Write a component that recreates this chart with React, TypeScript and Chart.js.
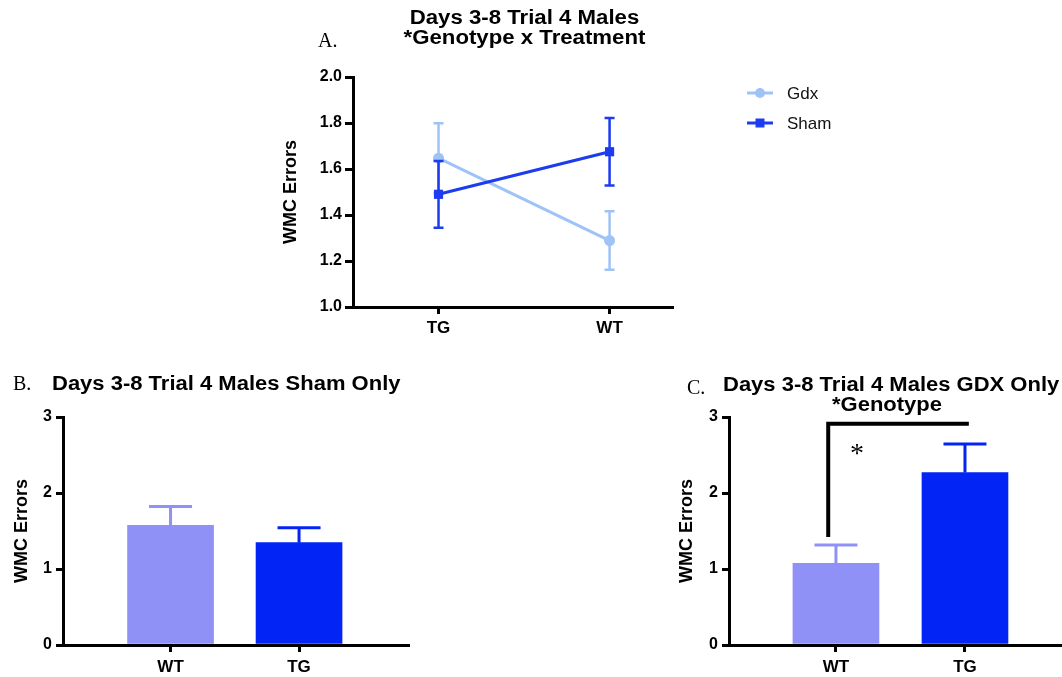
import React, { useEffect, useRef } from 'react';
import { Chart, registerables } from 'chart.js';

Chart.register(...registerables);

// ---------- Data ----------
const lineCategories = ['TG', 'WT'];
const gdxMeans = [1.647, 1.289];
const gdxSem = [0.152, 0.127];
const shamMeans = [1.49, 1.675];
const shamSem = [0.145, 0.147];
const lineYTicks = [1.0, 1.2, 1.4, 1.6, 1.8, 2.0];

const barCategories = ['WT', 'TG'];
const shamOnlyMeans = [1.574, 1.346];
const shamOnlySem = [0.25, 0.197];
const gdxOnlyMeans = [1.075, 2.27];
const gdxOnlySem = [0.241, 0.375];
const barYTicks = [0, 1, 2, 3];

const legendLabels = ['Gdx', 'Sham'];

// ---------- Styles ----------
const GDX_LINE = '#9fc3f6';
const SHAM_LINE = '#1d3bef';
const BAR_LIGHT = '#8f91f7';
const BAR_DARK = '#0224f4';
const SANS = '"Liberation Sans", Arial, Helvetica, sans-serif';
const SERIF = '"Liberation Serif", "Times New Roman", serif';

Chart.defaults.font.family = SANS;
Chart.defaults.color = '#000';

type Txt = { text: string; x: number; y: number; font: string; align?: CanvasTextAlign; sx?: number };

const textPlugin = (items: Txt[]) => ({
  id: 'texts',
  afterDraw(chart: any) {
    const ctx = chart.ctx;
    items.forEach((t) => {
      ctx.save();
      ctx.font = t.font;
      ctx.fillStyle = '#000';
      ctx.textAlign = t.align || 'left';
      ctx.textBaseline = 'alphabetic';
      ctx.translate(t.x, t.y);
      ctx.scale(t.sx || 1, 1);
      ctx.fillText(t.text, 0, 0);
      ctx.restore();
    });
  },
});

const lineErrorPlugin = {
  id: 'lineErr',
  beforeDatasetDraw(chart: any, args: any) {
    const ds = chart.data.datasets[args.index];
    const sem: number[] = ds.sem;
    if (!sem) return;
    const ctx = chart.ctx;
    const ys = chart.scales.y;
    ctx.save();
    ctx.strokeStyle = ds.borderColor;
    ctx.lineWidth = 2.5;
    args.meta.data.forEach((pt: any, i: number) => {
      const v = ds.data[i].y;
      const yt = ys.getPixelForValue(v + sem[i]);
      const yb = ys.getPixelForValue(v - sem[i]);
      ctx.beginPath();
      ctx.moveTo(pt.x, yt);
      ctx.lineTo(pt.x, yb);
      ctx.moveTo(pt.x - 5, yt);
      ctx.lineTo(pt.x + 5, yt);
      ctx.moveTo(pt.x - 5, yb);
      ctx.lineTo(pt.x + 5, yb);
      ctx.stroke();
    });
    ctx.restore();
  },
};

const barErrorPlugin = {
  id: 'barErr',
  afterDatasetDraw(chart: any, args: any) {
    const ds = chart.data.datasets[args.index];
    const sem: number[] = ds.sem;
    if (!sem) return;
    const ctx = chart.ctx;
    const ys = chart.scales.y;
    ctx.save();
    ctx.lineWidth = 3;
    args.meta.data.forEach((bar: any, i: number) => {
      const v = ds.data[i].y;
      const yt = ys.getPixelForValue(v + sem[i]);
      ctx.strokeStyle = ds.backgroundColor[i];
      ctx.beginPath();
      ctx.moveTo(bar.x, bar.y);
      ctx.lineTo(bar.x, yt);
      ctx.moveTo(bar.x - 21.5, yt);
      ctx.lineTo(bar.x + 21.5, yt);
      ctx.stroke();
    });
    ctx.restore();
  },
};

const legendPlugin = {
  id: 'customLegend',
  afterDraw(chart: any) {
    const ctx = chart.ctx;
    const rows = [
      { label: legendLabels[0], color: GDX_LINE, shape: 'circle', y: 93 },
      { label: legendLabels[1], color: SHAM_LINE, shape: 'rect', y: 123 },
    ];
    rows.forEach((r) => {
      ctx.save();
      ctx.strokeStyle = r.color;
      ctx.fillStyle = r.color;
      ctx.lineWidth = 3;
      ctx.beginPath();
      ctx.moveTo(487, r.y);
      ctx.lineTo(513, r.y);
      ctx.stroke();
      ctx.beginPath();
      if (r.shape === 'circle') ctx.arc(500, r.y, 5, 0, Math.PI * 2);
      else ctx.rect(495.5, r.y - 4.5, 9, 9);
      ctx.fill();
      ctx.fillStyle = '#111';
      ctx.font = `17px ${SANS}`;
      ctx.textBaseline = 'middle';
      ctx.textAlign = 'left';
      ctx.fillText(r.label, 527, r.y + 1);
      ctx.restore();
    });
  },
};

const bracketPlugin = {
  id: 'bracket',
  afterDraw(chart: any) {
    const { ctx, scales } = chart;
    const xs = scales.x;
    const ys = scales.y;
    ctx.save();
    ctx.strokeStyle = '#000';
    ctx.lineWidth = 4;
    ctx.lineJoin = 'miter';
    ctx.beginPath();
    ctx.moveTo(xs.getPixelForValue(-0.06), ys.getPixelForValue(1.42));
    ctx.lineTo(xs.getPixelForValue(-0.06), ys.getPixelForValue(2.91));
    ctx.lineTo(xs.getPixelForValue(1.03), ys.getPixelForValue(2.91));
    ctx.stroke();
    ctx.fillStyle = '#000';
    ctx.font = `28px ${SERIF}`;
    ctx.textAlign = 'center';
    ctx.textBaseline = 'alphabetic';
    ctx.fillText('*', xs.getPixelForValue(0.163), ys.getPixelForValue(2.59) + 14);
    ctx.restore();
  },
};

const grid = (len: number) => ({
  display: true,
  drawOnChartArea: false,
  drawTicks: true,
  offset: false,
  tickLength: len,
  tickWidth: 3,
  tickColor: '#000',
  color: '#000',
  lineWidth: 3,
});
const border = { display: true, color: '#000', width: 3 };
const tickFont = { size: 16, weight: 'bold' as const };
const xTickFont = { size: 17, weight: 'bold' as const };
const yTitle = (pad: number) => ({
  display: true,
  text: 'WMC Errors',
  font: { size: 18, weight: 'bold' as const },
  color: '#000',
  padding: { top: pad, bottom: 0 },
});

function makeLineChart() {
  return {
    type: 'line',
    data: {
      datasets: [
        {
          label: legendLabels[0],
          data: lineCategories.map((_, i) => ({ x: i, y: gdxMeans[i] })),
          sem: gdxSem,
          borderColor: GDX_LINE,
          backgroundColor: GDX_LINE,
          borderWidth: 3,
          pointStyle: 'circle',
          pointRadius: 5.5,
          pointBorderWidth: 0,
          order: 1,
        },
        {
          label: legendLabels[1],
          data: lineCategories.map((_, i) => ({ x: i, y: shamMeans[i] })),
          sem: shamSem,
          borderColor: SHAM_LINE,
          backgroundColor: SHAM_LINE,
          borderWidth: 3,
          pointStyle: 'rect',
          pointRadius: 6.5,
          pointBorderWidth: 0,
          order: 0,
        },
      ],
    },
    options: {
      animation: false,
      responsive: false,
      maintainAspectRatio: false,
      layout: { padding: { left: 0, top: 77, right: 188, bottom: 0 } },
      plugins: { legend: { display: false }, tooltip: { enabled: false }, title: { display: false } },
      scales: {
        x: {
          type: 'linear',
          offset: false,
          min: -0.5,
          max: 1.365,
          afterBuildTicks: (s: any) => {
            s.ticks = lineCategories.map((_, i) => ({ value: i }));
          },
          afterFit: (s: any) => {
            s.height = 38;
          },
          ticks: {
            callback: (v: any) => lineCategories[v] ?? '',
            font: xTickFont,
            color: '#000',
            padding: 4,
            maxRotation: 0,
            autoSkip: false,
          },
          grid: grid(7),
          border,
        },
        y: {
          type: 'linear',
          min: 1,
          max: 2,
          afterBuildTicks: (s: any) => {
            s.ticks = lineYTicks.map((v) => ({ value: v }));
          },
          afterFit: (s: any) => {
            s.width = 93;
          },
          ticks: {
            callback: (v: any) => Number(v).toFixed(1),
            font: tickFont,
            color: '#000',
            padding: 3,
          },
          grid: grid(8),
          border,
          title: yTitle(20),
        },
      },
    },
    plugins: [
      lineErrorPlugin,
      legendPlugin,
      textPlugin([
        { text: 'Days 3-8 Trial 4 Males', x: 264.5, y: 24, font: `bold 20px ${SANS}`, align: 'center', sx: 1.11 },
        { text: '*Genotype x Treatment', x: 264.5, y: 44, font: `bold 20px ${SANS}`, align: 'center', sx: 1.11 },
        { text: 'A.', x: 58, y: 47, font: `20px ${SERIF}` },
      ]),
    ],
  };
}

function makeBarChart(
  means: number[],
  sem: number[],
  yWidth: number,
  xMin: number,
  xMax: number,
  padRight: number,
  titlePad: number,
  texts: Txt[],
  extra: any[]
) {
  return {
    type: 'bar',
    data: {
      datasets: [
        {
          data: barCategories.map((_, i) => ({ x: i, y: means[i] })),
          sem,
          backgroundColor: [BAR_LIGHT, BAR_DARK],
          borderWidth: 0,
          barThickness: 86,
        },
      ],
    },
    options: {
      animation: false,
      responsive: false,
      maintainAspectRatio: false,
      layout: { padding: { left: 0, top: 57, right: padRight, bottom: 0 } },
      plugins: { legend: { display: false }, tooltip: { enabled: false }, title: { display: false } },
      scales: {
        x: {
          type: 'linear',
          offset: false,
          min: xMin,
          max: xMax,
          afterBuildTicks: (s: any) => {
            s.ticks = barCategories.map((_, i) => ({ value: i }));
          },
          afterFit: (s: any) => {
            s.height = 32;
          },
          ticks: {
            callback: (v: any) => barCategories[v] ?? '',
            font: xTickFont,
            color: '#000',
            padding: 5,
            maxRotation: 0,
            autoSkip: false,
          },
          grid: grid(7),
          border,
        },
        y: {
          type: 'linear',
          min: 0,
          max: 3,
          afterBuildTicks: (s: any) => {
            s.ticks = barYTicks.map((v) => ({ value: v }));
          },
          afterFit: (s: any) => {
            s.width = yWidth;
          },
          ticks: { font: tickFont, color: '#000', padding: 4 },
          grid: grid(7),
          border,
          title: yTitle(titlePad),
        },
      },
    },
    plugins: [barErrorPlugin, textPlugin(texts), ...extra],
  };
}

function ChartBox(props: { left: number; top: number; width: number; height: number; make: () => any }) {
  const ref = useRef<HTMLCanvasElement>(null);
  useEffect(() => {
    const chart = new Chart(ref.current as HTMLCanvasElement, props.make());
    return () => chart.destroy();
  }, []);
  return (
    <canvas
      ref={ref}
      width={props.width}
      height={props.height}
      style={{ position: 'absolute', left: props.left, top: props.top, width: props.width, height: props.height }}
    />
  );
}

export default function App() {
  return (
    <div style={{ position: 'absolute', left: 0, top: 0, width: 1062, height: 677, background: '#fff', overflow: 'hidden' }}>
      <ChartBox left={260} top={0} width={600} height={345} make={makeLineChart} />
      <ChartBox
        left={0}
        top={360}
        width={420}
        height={317}
        make={() =>
          makeBarChart(shamOnlyMeans, shamOnlySem, 63, -0.837, 1.848, 12, 11, [
            { text: 'B.', x: 13, y: 30, font: `20px ${SERIF}` },
            { text: 'Days 3-8 Trial 4 Males Sham Only', x: 52, y: 30, font: `bold 20px ${SANS}`, sx: 1.1 },
          ], [])
        }
      />
      <ChartBox
        left={660}
        top={360}
        width={402}
        height={317}
        make={() =>
          makeBarChart(gdxOnlyMeans, gdxOnlySem, 69, -0.829, 1.752, 0, 16, [
            { text: 'C.', x: 27, y: 34, font: `20px ${SERIF}` },
            { text: 'Days 3-8 Trial 4 Males GDX Only', x: 63, y: 31, font: `bold 20px ${SANS}`, sx: 1.1 },
            { text: '*Genotype', x: 227, y: 51, font: `bold 20px ${SANS}`, align: 'center', sx: 1.1 },
          ], [bracketPlugin])
        }
      />
    </div>
  );
}
